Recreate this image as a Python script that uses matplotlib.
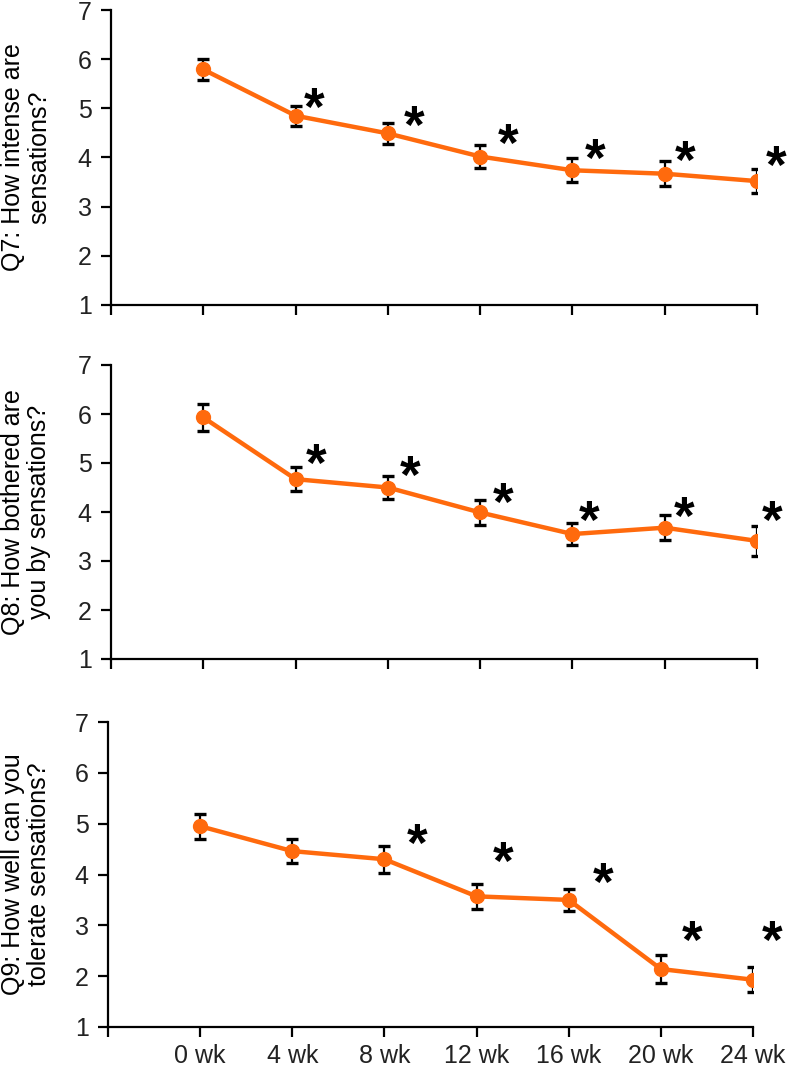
import matplotlib.pyplot as plt
import matplotlib.transforms as mtransforms
import numpy as np

plt.rcParams['font.family'] = ['Liberation Sans', 'DejaVu Sans']

# Datos
semanas = ["0 wk", "4 wk", "8 wk", "12 wk", "16 wk", "20 wk", "24 wk"]
ylabels = ["Q7: How intense are\nsensations?",
           "Q8: How bothered are\nyou by sensations?",
           "Q9: How well can you\ntolerate sensations?"]

q7_media = [5.79, 4.85, 4.49, 4.02, 3.74, 3.67, 3.52]
q7_err = [0.21, 0.20, 0.22, 0.23, 0.24, 0.25, 0.24]
q7_ast = [None, 5.27, 4.90, 4.54, 4.22, 4.19, 4.09]

q8_media = [5.93, 4.67, 4.50, 3.99, 3.55, 3.68, 3.41]
q8_err = [0.27, 0.25, 0.24, 0.26, 0.23, 0.26, 0.30]
q8_ast = [None, 5.23, 5.00, 4.45, 4.08, 4.15, 4.08]

q9_media = [4.95, 4.46, 4.30, 3.57, 3.50, 2.14, 1.93]
q9_err = [0.25, 0.24, 0.27, 0.24, 0.22, 0.27, 0.25]
q9_ast = [None, None, 4.84, 4.50, 4.09, 2.94, 2.94]

medias = [q7_media, q8_media, q9_media]
errores = [q7_err, q8_err, q9_err]
asteriscos = [q7_ast, q8_ast, q9_ast]

# desplazamiento horizontal de cada asterisco respecto de su punto
dx_ast = [[0, 0.20, 0.28, 0.30, 0.25, 0.22, 0.21],
          [0, 0.22, 0.24, 0.25, 0.18, 0.21, 0.16],
          [0, 0, 0.36, 0.29, 0.37, 0.34, 0.21]]

naranja = "#FF6A0D"
W, H = 787, 1066
# cajas de los ejes en píxeles: izquierda, arriba, derecha, abajo
cajas = [(111, 10, 757, 305), (111, 365, 757, 659), (108, 722, 753, 1027)]
fs_ast = 38

fig = plt.figure(figsize=(W/100, H/100), dpi=100)
x = np.arange(1, len(semanas) + 1)

for i in range(3):
    l, t, r, b = cajas[i]
    ax = fig.add_axes([l/W, 1 - b/H, (r - l)/W, (b - t)/H])
    ax.errorbar(x, medias[i], yerr=errores[i], fmt='none', ecolor='black',
                elinewidth=1.6, capsize=4.5, capthick=2.4, zorder=2)
    ax.plot(x, medias[i], color=naranja, lw=3.2, marker='o', ms=10,
            zorder=3)
    # el centro del asterisco queda ~0.56 em sobre la línea base
    tr = mtransforms.offset_copy(ax.transData, fig=fig, y=-0.56*fs_ast,
                                 units='points')
    for j in range(len(x)):
        if asteriscos[i][j] is not None:
            ax.text(x[j] + dx_ast[i][j], asteriscos[i][j], "*",
                    fontsize=fs_ast, fontweight='bold', ha='center',
                    va='baseline', transform=tr, clip_on=False)
    ax.set_xlim(0, 7)
    ax.set_ylim(1, 7)
    ax.set_yticks(range(1, 8))
    ax.set_xticks(range(0, 8))
    if i == 2:
        ax.set_xticklabels([""] + semanas)
    else:
        ax.set_xticklabels([])
    for s in ['top', 'right']:
        ax.spines[s].set_visible(False)
    for s in ['left', 'bottom']:
        ax.spines[s].set_linewidth(1.6)
    ax.tick_params(axis='both', direction='out', length=7, width=1.6,
                   labelsize=18, colors='black', labelcolor='#222222')
    ax.tick_params(axis='x', pad=5)
    ax.tick_params(axis='y', pad=7)
    ax.set_ylabel(ylabels[i], fontsize=18, va='center', linespacing=1.15)
    ax.yaxis.set_label_coords((26 - l)/(r - l), 0.5)

fig.savefig("out.png", dpi=100)
